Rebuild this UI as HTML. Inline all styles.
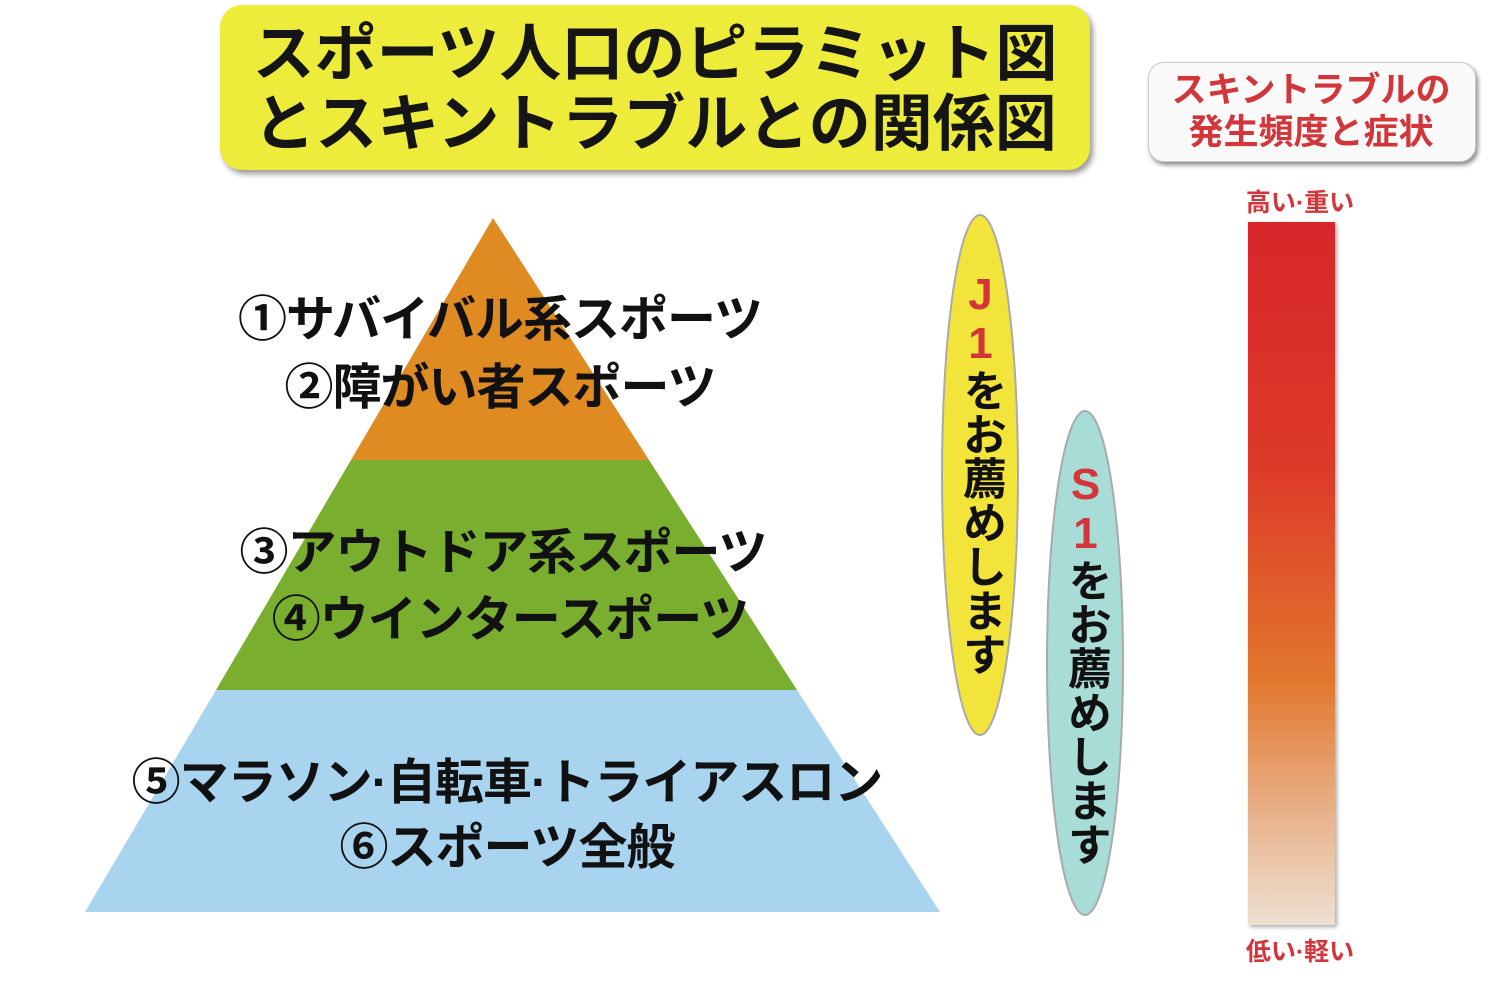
<!DOCTYPE html>
<html><head><meta charset="utf-8"><style>
body{margin:0;width:1500px;height:994px;background:#fff;position:relative;overflow:hidden;font-family:"Liberation Sans","Noto Sans CJK JP",sans-serif;font-weight:bold}
.a{position:absolute}
.t{position:absolute;left:0;width:1000px;text-align:center;font-size:49px;color:#111;white-space:nowrap;letter-spacing:-1px}
.v{position:absolute;writing-mode:vertical-rl;text-orientation:upright;font-size:44px;color:#111;line-height:1}
</style></head><body>
<div class="a" style="left:220px;top:5px;width:870px;height:165px;background:#eeec3a;border-radius:22px;box-shadow:3px 4px 6px #999"></div>
<div class="a" style="left:220px;top:20px;width:870px;text-align:center;font-size:62px;line-height:70px;color:#151515;white-space:nowrap">スポーツ人口のピラミット図<br>とスキントラブルとの関係図</div>
<div class="a" style="left:1148px;top:62px;width:326px;height:98px;background:#fafafa;border-radius:16px;box-shadow:2px 3px 5px #888;border:1px solid #ccc"></div>
<div class="a" style="left:1148px;top:70px;width:326px;text-align:center;font-size:35px;line-height:42px;color:#d2363a">スキントラブルの<br>発生頻度と症状</div>
<div class="a" style="left:1200px;top:183px;width:200px;text-align:center;font-size:25px;color:#d2363a">高い·重い</div>
<div class="a" style="left:1200px;top:932px;width:200px;text-align:center;font-size:25px;color:#d2363a">低い·軽い</div>
<div class="a" style="left:1248px;top:222px;width:87px;height:703px;background:linear-gradient(#d8262a 0%,#dc3a28 35%,#e2772e 65%,#e8b48e 85%,#eee0d2 100%);box-shadow:2px 2px 4px #aaa"></div>
<svg class="a" style="left:0;top:0" width="1500" height="994">
<polygon points="493,218 351,460 649,460" fill="#e08a22"/>
<polygon points="351,460 649,460 797,690 216,690" fill="#7aae2e"/>
<polygon points="216,690 797,690 940,912 85,912" fill="#a8d4ef"/>
<ellipse cx="980" cy="475" rx="38" ry="260" fill="#f2e43a" stroke="#aaa" stroke-width="2"/>
<ellipse cx="1085" cy="663" rx="38" ry="252" fill="#a8dcd6" stroke="#aaa" stroke-width="2"/>
</svg>
<div class="t" style="top:280px;left:0">①サバイバル系スポーツ</div>
<div class="t" style="top:348px;left:0">②障がい者スポーツ</div>
<div class="t" style="top:513px;left:3px">③アウトドア系スポーツ</div>
<div class="t" style="top:580px;left:10px">④ウインタースポーツ</div>
<div class="t" style="top:743px;left:7px">⑤マラソン·自転車·トライアスロン</div>
<div class="t" style="top:808px;left:7px">⑥スポーツ全般</div>
<div class="v" style="left:958px;top:270px"><span style="color:#d2363a">J1</span>をお薦めします</div>
<div class="v" style="left:1063px;top:460px"><span style="color:#d2363a">S1</span>をお薦めします</div>
</body></html>
